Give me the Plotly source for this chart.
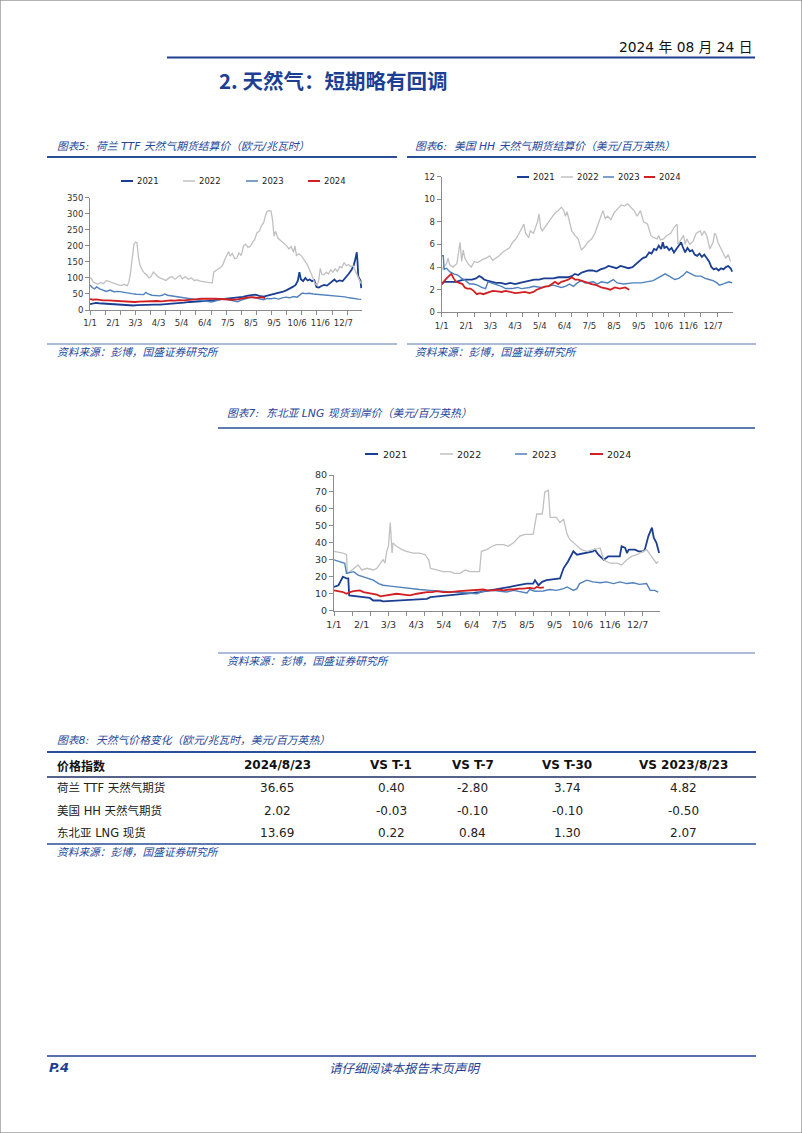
import plotly.graph_objects as go

W, H = 802, 1133

# ---------------- data ----------------
X_TICK_DAYS = [0, 31, 61, 92, 123, 154, 185, 216, 247, 278, 309, 340]
X_TICK_TEXT = ["1/1", "2/1", "3/3", "4/3", "5/4", "6/4", "7/5", "8/5", "9/5", "10/6", "11/6", "12/7"]
SERIES_NAMES = ["2021", "2022", "2023", "2024"]

# Chart 5: Dutch TTF settlement (EUR/MWh), (day of year, value)
TTF_2021 = [(0,18),(4,20),(8,22),(12,21),(17,20),(22,21),(28,19),(34,18),(40,17),(46,16),(52,15),(58,14),(64,15),(70,16),(78,16),(86,17),(94,17),(102,18),(110,19),(118,21),(126,23),(134,25),(142,26),(150,27),(158,28),(166,30),(174,33),(182,35),(190,37),(198,39),(205,41),(212,45),(218,47),(222,48),(227,44),(233,42),(238,45),(244,48),(249,51),(254,54),(259,57),(264,62),(268,66),(272,72),(276,78),(279,92),(281,118),(283,96),(286,90),(289,100),(292,92),(295,95),(298,90),(301,93),(304,72),(307,70),(310,74),(314,78),(318,76),(322,83),(325,90),(328,95),(331,88),(335,92),(339,90),(343,100),(347,112),(351,125),(354,140),(356,158),(358,180),(359,150),(360,105),(362,96),(363,92),(364,68)]
TTF_2022 = [(0,100),(2,98),(4,88),(7,84),(10,80),(14,86),(18,82),(22,92),(26,88),(30,85),(34,80),(38,78),(42,76),(46,80),(50,75),(52,86),(54,110),(56,150),(57,175),(59,205),(61,212),(63,210),(65,165),(67,140),(70,125),(73,115),(76,110),(79,100),(82,105),(85,118),(88,112),(91,104),(94,100),(98,96),(102,92),(106,100),(110,104),(114,96),(118,102),(121,108),(124,97),(128,104),(132,96),(136,100),(140,92),(144,94),(148,90),(152,88),(156,86),(160,85),(164,84),(166,118),(169,124),(172,128),(175,132),(178,140),(181,158),(184,170),(186,182),(188,168),(191,176),(194,160),(197,162),(200,178),(203,170),(206,200),(209,205),(212,195),(215,198),(218,210),(221,220),(224,240),(227,245),(230,262),(233,272),(235,290),(237,305),(240,310),(243,308),(245,280),(247,230),(249,245),(252,225),(255,218),(258,212),(261,205),(264,200),(267,190),(270,198),(273,180),(275,200),(277,170),(280,175),(284,168),(288,155),(292,140),(296,118),(299,100),(302,82),(305,76),(307,95),(309,130),(311,112),(314,110),(317,118),(320,112),(323,125),(326,118),(329,128),(332,120),(335,135),(338,132),(341,148),(344,138),(347,142),(350,135),(353,138),(356,122),(359,105),(362,90),(364,82)]
TTF_2023 = [(0,78),(3,70),(6,66),(9,72),(13,66),(17,62),(22,58),(27,62),(32,57),(38,58),(44,55),(50,52),(56,51),(62,49),(68,47),(72,48),(75,55),(78,50),(83,46),(88,44),(93,44),(97,46),(100,50),(104,46),(110,44),(116,42),(122,40),(128,38),(134,36),(140,34),(146,32),(152,29),(158,26),(163,25),(168,28),(173,32),(178,35),(183,33),(188,30),(193,28),(198,26),(203,31),(208,35),(213,38),(218,40),(223,38),(228,35),(233,32),(238,36),(243,35),(248,37),(253,34),(258,38),(263,40),(268,38),(273,42),(278,40),(282,47),(285,53),(289,51),(294,52),(300,50),(306,49),(312,48),(318,47),(324,46),(330,45),(336,44),(342,41),(348,38),(354,35),(360,34),(364,33)]
TTF_2024 = [(0,34),(4,32),(8,33),(12,31),(18,30),(24,30),(30,29),(36,27),(42,26),(48,25),(54,24),(60,25),(66,26),(72,27),(78,28),(84,27),(90,28),(96,27),(102,29),(108,30),(114,29),(120,31),(126,30),(132,32),(138,33),(144,34),(150,35),(156,34),(162,35),(168,35),(174,34),(180,33),(186,34),(192,32),(198,33),(204,35),(210,38),(215,40),(220,39),(225,38),(230,40),(235,37)]

# Chart 6: US Henry Hub settlement (USD/MMBtu)
HH_2021 = [(0,2.5),(3,2.7),(8,2.7),(13,2.7),(18,2.7),(23,2.8),(28,2.9),(33,2.9),(38,2.9),(43,3.0),(47,3.2),(50,3.1),(53,2.9),(57,2.8),(62,2.7),(68,2.6),(74,2.6),(80,2.5),(86,2.6),(92,2.5),(98,2.6),(104,2.7),(110,2.8),(116,2.9),(122,2.9),(128,3.0),(134,3.0),(140,3.0),(146,3.1),(152,3.1),(158,3.1),(163,3.2),(167,3.4),(171,3.3),(175,3.5),(179,3.6),(184,3.7),(189,3.7),(194,3.6),(199,3.8),(204,3.9),(209,4.1),(214,4.0),(219,3.9),(224,4.1),(229,4.0),(234,3.9),(239,4.0),(244,4.3),(248,4.6),(252,4.8),(256,4.9),(260,5.3),(263,5.2),(266,5.6),(269,5.5),(272,5.9),(275,5.6),(277,6.2),(279,5.7),(282,5.8),(285,5.5),(288,5.7),(291,5.3),(294,5.6),(297,5.9),(300,6.2),(302,5.8),(305,5.3),(308,5.7),(311,5.4),(314,5.5),(317,5.1),(320,5.0),(323,5.2),(326,4.9),(329,5.1),(332,4.8),(335,4.5),(338,4.0),(341,3.8),(344,3.9),(347,3.7),(350,3.9),(353,3.8),(356,4.0),(359,4.1),(362,3.9),(364,3.6)]
HH_2022 = [(0,3.8),(2,4.0),(6,4.3),(8,4.8),(10,4.2),(14,4.0),(19,4.3),(23,6.2),(25,4.5),(27,5.5),(29,4.8),(33,4.3),(37,4.0),(41,4.5),(45,4.4),(52,4.7),(56,4.8),(60,5.0),(64,4.6),(68,4.8),(72,5.0),(76,5.3),(80,5.5),(85,5.7),(89,6.2),(93,6.5),(97,7.0),(101,7.5),(103,7.8),(105,7.0),(109,6.6),(111,7.2),(115,7.0),(120,8.0),(122,8.7),(124,7.5),(126,7.2),(130,7.6),(134,8.0),(138,8.3),(142,8.8),(146,9.0),(150,9.3),(153,9.0),(155,8.5),(157,8.9),(159,8.3),(161,7.8),(163,7.2),(167,6.8),(171,6.5),(175,5.5),(179,5.8),(183,6.2),(188,6.5),(192,7.0),(196,7.8),(200,8.5),(202,9.0),(205,8.3),(208,8.5),(212,8.2),(216,8.8),(221,9.2),(225,9.5),(229,9.4),(233,9.6),(237,9.3),(241,9.0),(245,8.5),(249,9.0),(253,8.0),(258,7.8),(262,6.8),(266,6.6),(270,6.5),(272,6.8),(274,6.4),(278,6.5),(282,6.8),(287,7.0),(291,7.5),(295,7.8),(296,6.0),(299,6.3),(303,6.8),(305,6.0),(307,6.5),(311,6.0),(315,6.3),(319,7.0),(324,7.2),(326,6.8),(329,7.2),(332,6.8),(334,6.2),(336,5.6),(340,6.2),(342,7.0),(344,6.8),(346,6.2),(353,5.2),(356,4.8),(359,5.1),(362,4.5)]
HH_2023 = [(0,5.0),(2,5.0),(3,3.8),(6,3.9),(10,3.6),(15,3.4),(20,3.3),(25,3.0),(30,2.8),(35,2.5),(40,2.5),(45,2.4),(50,2.2),(55,2.1),(58,2.7),(62,2.6),(68,2.5),(75,2.3),(80,2.1),(88,2.1),(95,2.2),(100,2.1),(110,2.2),(115,2.3),(125,2.2),(135,2.3),(140,2.4),(145,2.3),(150,2.2),(155,2.3),(160,2.5),(165,2.3),(170,2.6),(175,2.8),(180,2.6),(190,2.7),(195,2.5),(200,2.7),(208,2.6),(215,2.9),(220,2.6),(228,2.5),(235,2.55),(240,2.6),(250,2.6),(258,2.7),(265,2.8),(270,3.0),(275,3.2),(280,3.4),(285,3.2),(292,2.9),(297,3.0),(303,3.3),(307,3.6),(312,3.4),(318,3.2),(325,3.2),(330,3.0),(335,2.9),(340,2.8),(345,2.6),(348,2.4),(352,2.5),(356,2.6),(360,2.7),(364,2.6)]
HH_2024 = [(0,2.5),(3,2.8),(6,3.0),(9,3.2),(12,3.4),(15,3.0),(18,2.7),(22,2.6),(26,2.5),(29,2.2),(32,2.1),(36,2.1),(40,1.9),(44,1.6),(48,1.7),(52,1.6),(56,1.7),(60,1.8),(64,1.9),(70,1.85),(75,1.8),(80,1.9),(86,1.8),(92,1.7),(98,1.75),(104,1.8),(110,1.7),(115,1.8),(119,2.0),(125,2.2),(130,2.3),(134,2.3),(138,2.5),(142,2.7),(146,2.5),(150,2.7),(155,2.8),(159,2.9),(163,3.1),(167,2.9),(171,2.9),(175,2.8),(182,2.6),(188,2.5),(194,2.4),(200,2.2),(207,2.1),(211,2.0),(217,2.2),(223,2.1),(230,2.2),(235,2.0)]

# Chart 7: North-East Asia LNG spot (USD/MMBtu)
LNG_2021 = [(0,14),(5,15),(8,18),(10,20),(14,19),(16,19),(17,9),(25,8.5),(37,8),(40,7.5),(44,6),(52,6),(55,5.5),(70,6),(93,6.5),(104,7),(108,8),(119,8.5),(134,9.5),(145,10),(156,10.5),(163,11),(175,12),(186,13),(197,14),(205,15),(216,16),(223,16),(225,18),(229,15),(233,17),(238,18),(253,19),(257,25),(261,28),(262,29),(266,33),(268,35),(272,33),(283,34),(290,35),(292,36),(296,33),(302,30),(307,32),(320,32),(322,38),(326,37),(328,34),(330,36),(337,36),(341,35),(346,35),(348,36),(352,44),(356,49),(358,43),(361,40),(364,34)]
LNG_2022 = [(0,35),(10,34),(14,33),(15,22),(20,24),(25,26),(27,27),(31,24),(37,25),(44,24),(48,25),(52,28),(55,30),(57,28),(59,35),(61,38),(63,52),(65,34),(66,40),(70,38),(76,36),(81,35),(89,34),(96,34),(102,33),(106,30),(108,25),(115,24),(122,23),(130,23),(135,22),(141,22),(147,24),(152,23),(160,23),(163,23),(165,35),(171,36),(177,38),(182,39),(190,39),(195,38),(201,40),(205,42),(208,44),(214,45),(223,45),(227,57),(233,57),(234,60),(236,70),(240,71),(242,55),(249,55),(253,52),(257,54),(261,45),(264,42),(268,40),(272,38),(277,36),(283,35),(290,36),(298,37),(302,30),(309,28),(317,28),(322,27),(328,30),(333,32),(339,33),(346,35),(350,36),(354,33),(358,30),(361,28),(363,29)]
LNG_2023 = [(0,30),(7,29),(12,28),(14,22),(22,23),(27,21),(33,20),(40,19),(44,18),(50,16),(55,15),(63,14.5),(70,14),(78,13.5),(85,13),(96,12.5),(108,12),(119,11.5),(130,11),(141,10.5),(152,10),(160,10),(167,11.5),(178,12),(186,11.5),(193,11),(201,12),(208,11.5),(216,10.5),(219,12.5),(225,11.5),(234,11.6),(242,12.5),(249,12),(257,13),(261,14),(264,13),(268,12),(272,13),(275,16),(283,18),(290,17),(298,16.5),(305,17),(313,16),(320,17),(328,16),(335,16.5),(342,15.5),(350,16),(354,12),(359,12),(363,11)]
LNG_2024 = [(0,12),(5,11.5),(10,11),(14,10),(18,11),(22,11.5),(29,12),(33,11),(37,10.5),(44,10),(48,9.5),(52,8.5),(59,9),(64,9.5),(70,10),(78,9.5),(85,9),(93,10),(98,10.5),(104,11),(110,11),(115,11.5),(122,11),(130,11),(140,11.5),(152,12),(160,12),(167,12.5),(172,12),(178,12),(184,12.5),(190,12),(196,12.5),(201,12.5),(207,13),(212,13),(219,13.5),(224,13),(227,14),(231,13.5),(235,13.7)]

# Table 8
TABLE_HEADER = ["价格指数", "2024/8/23", "VS T-1", "VS T-7", "VS T-30", "VS 2023/8/23"]
TABLE_ROW_LABELS = ["荷兰 TTF 天然气期货", "美国 HH 天然气期货", "东北亚 LNG 现货"]
TABLE_LATEST = [36.65, 2.02, 13.69]
TABLE_VS_T1 = [0.40, -0.03, 0.22]
TABLE_VS_T7 = [-2.80, -0.10, 0.84]
TABLE_VS_T30 = [3.74, -0.10, 1.30]
TABLE_VS_YOY = [4.82, -0.50, 2.07]

# ---------------- styles ----------------
COLORS = ["#1a3e92", "#c0c0c0", "#4f81bd", "#d11f22"]
WIDTHS = [1.8, 1.3, 1.4, 1.8]
BLUE = "#24479a"
LINE_BLUE = "#2a4e97"
CJK = "Noto Sans CJK SC"
LAT = "DejaVu Sans, Noto Sans CJK SC"
HDR = 10.8


def fx(x):
    return x / W


def fy(y):
    return 1 - y / H


shapes = []
annotations = []


def hline(x0, x1, y, color=LINE_BLUE, width=1.0):
    shapes.append(dict(type="line", xref="paper", yref="paper", x0=fx(x0), x1=fx(x1),
                       y0=fy(y), y1=fy(y), line=dict(color=color, width=width), layer="above"))


def text(x, y, s, size, color="#222222", anchor="left", family=LAT):
    annotations.append(dict(x=fx(x), y=fy(y), xref="paper", yref="paper", text=s, showarrow=False,
                            xanchor=anchor, yanchor="middle", font=dict(size=size, color=color, family=family)))


fig = go.Figure()

charts = [
    dict(series=[TTF_2021, TTF_2022, TTF_2023, TTF_2024], x0=90, x1=362, ytop=197.7, ybot=310,
         ymax=350, dtick=50, fs=8.5,
         legend_y=181, legend=[(121, 133, 135), (183, 195, 197), (246, 258, 260), (308, 320, 322)]),
    dict(series=[HH_2021, HH_2022, HH_2023, HH_2024], x0=441.7, x1=733, ytop=176.7, ybot=312.3,
         ymax=12, dtick=2, fs=8.5,
         legend_y=177, legend=[(517, 529, 531), (561, 573, 575), (603, 614, 616), (644, 655, 657)]),
    dict(series=[LNG_2021, LNG_2022, LNG_2023, LNG_2024], x0=334, x1=660, ytop=475, ybot=610.7,
         ymax=80, dtick=10, fs=9.5,
         legend_y=454, legend=[(365, 378, 381), (440, 453, 455), (515, 527, 530), (590, 603, 605)]),
]

layout_axes = {}
for i, c in enumerate(charts):
    n = "" if i == 0 else str(i + 1)
    for s_i, data in enumerate(c["series"]):
        xs = [p[0] for p in data]
        ys = [p[1] for p in data]
        fig.add_trace(go.Scatter(x=xs, y=ys, mode="lines", name=SERIES_NAMES[s_i],
                                 line=dict(color=COLORS[s_i], width=WIDTHS[s_i]),
                                 xaxis="x" + n, yaxis="y" + n, showlegend=False, hoverinfo="skip"))
    layout_axes["xaxis" + n] = dict(
        domain=[fx(c["x0"]), fx(c["x1"])], anchor="y" + n, range=[0, 365],
        tickmode="array", tickvals=X_TICK_DAYS, ticktext=X_TICK_TEXT,
        ticks="outside", ticklen=5, tickcolor="rgba(0,0,0,0)",
        minor=dict(ticks="outside", tick0=0, dtick=20.3, ticklen=4, tickcolor="#8c8c8c", showgrid=False),
        showline=True, linecolor="#8c8c8c", linewidth=1, showgrid=False, zeroline=False,
        tickfont=dict(size=c["fs"], color="#333333", family="DejaVu Sans"), automargin=False, fixedrange=True)
    layout_axes["yaxis" + n] = dict(
        domain=[fy(c["ybot"]), fy(c["ytop"])], anchor="x" + n, range=[0, c["ymax"]],
        tick0=0, dtick=c["dtick"], ticks="outside", ticklen=4, tickcolor="#8c8c8c",
        showline=True, linecolor="#8c8c8c", linewidth=1, showgrid=False, zeroline=False,
        tickfont=dict(size=c["fs"], color="#333333", family="DejaVu Sans"), automargin=False, fixedrange=True)
    # legend (manual, short line samples)
    for s_i, (lx0, lx1, tx) in enumerate(c["legend"]):
        hline(lx0, lx1, c["legend_y"], COLORS[s_i], 2.0 if s_i in (0, 3) else 1.5)
        text(tx, c["legend_y"], SERIES_NAMES[s_i], c["fs"], "#222222", "left", "DejaVu Sans")

# ---------------- page furniture ----------------
shapes.append(dict(type="rect", xref="paper", yref="paper", x0=0, x1=1, y0=0, y1=1,
                   line=dict(color="#9a9a9a", width=1.5), layer="below"))
text(755, 47, "2024 年 08 月 24 日", 13.8, "#111111", "right", LAT)
hline(167, 755, 57.5, "#1f3f8f", 2)
text(217, 80, "<b>2. 天然气：短期略有回调</b>", 20.5, "#1c3f94", "left", CJK)

# chart headers
text(55, 146, "<i>图表5:  荷兰 TTF 天然气期货结算价（欧元/兆瓦时）</i>", HDR, BLUE, "left", LAT)
hline(47, 397, 157, LINE_BLUE, 2)
text(413, 146, "<i>图表6:  美国 HH 天然气期货结算价（美元/百万英热）</i>", HDR, BLUE, "left", LAT)
hline(407, 756, 157, LINE_BLUE, 2)
hline(47, 397, 344, "#5a78b0", 1)
hline(407, 756, 344, "#5a78b0", 1)
text(55, 352, "<i>资料来源：彭博，国盛证券研究所</i>", 10.7, BLUE, "left", CJK)
text(413, 352, "<i>资料来源：彭博，国盛证券研究所</i>", 10.7, BLUE, "left", CJK)

text(225, 413, "<i>图表7:  东北亚 LNG 现货到岸价（美元/百万英热）</i>", HDR, BLUE, "left", LAT)
hline(218, 755, 428, LINE_BLUE, 1.5)
hline(218, 755, 653, "#5a78b0", 1)
text(225, 660, "<i>资料来源：彭博，国盛证券研究所</i>", 10.7, BLUE, "left", CJK)

# table
text(55, 740, "<i>图表8:  天然气价格变化（欧元/兆瓦时，美元/百万英热）</i>", HDR, BLUE, "left", LAT)
hline(47, 756, 752, LINE_BLUE, 2)
col_x = [55, 277, 391, 473, 567, 683]
text(col_x[0], 765, "<b>" + TABLE_HEADER[0] + "</b>", 12, "#111111", "left", CJK)
for j in range(1, 6):
    text(col_x[j], 765, "<b>" + TABLE_HEADER[j] + "</b>", 12, "#111111", "center", LAT)
hline(47, 756, 777, "#1d2f66", 1.3)
row_y = [788, 810.5, 833]
cols = [TABLE_LATEST, TABLE_VS_T1, TABLE_VS_T7, TABLE_VS_T30, TABLE_VS_YOY]
for r in range(3):
    text(col_x[0], row_y[r], TABLE_ROW_LABELS[r], 11.5, "#222222", "left", LAT)
    for j, colvals in enumerate(cols):
        text(col_x[j + 1], row_y[r], f"{colvals[r]:.2f}", 12, "#222222", "center", LAT)
hline(47, 756, 844, LINE_BLUE, 1.3)
text(55, 852, "<i>资料来源：彭博，国盛证券研究所</i>", 10.7, BLUE, "left", CJK)

# footer
hline(47, 756, 1056, "#1f3f8f", 1.5)
text(47, 1067, "<b><i>P.4</i></b>", 13, "#1c3f94", "left", LAT)
text(405, 1067, "<i>请仔细阅读本报告末页声明</i>", 12.5, "#1c3f94", "center", CJK)

fig.update_layout(
    width=W, height=H, margin=dict(l=0, r=0, t=0, b=0),
    paper_bgcolor="white", plot_bgcolor="rgba(0,0,0,0)",
    showlegend=False, shapes=shapes, annotations=annotations,
    font=dict(family=LAT),
    **layout_axes,
)

fig.write_html("out.html", config={"displayModeBar": False},
               post_script="document.body.style.margin='0';document.body.style.padding='0';"
                           "document.body.style.overflow='hidden';")
